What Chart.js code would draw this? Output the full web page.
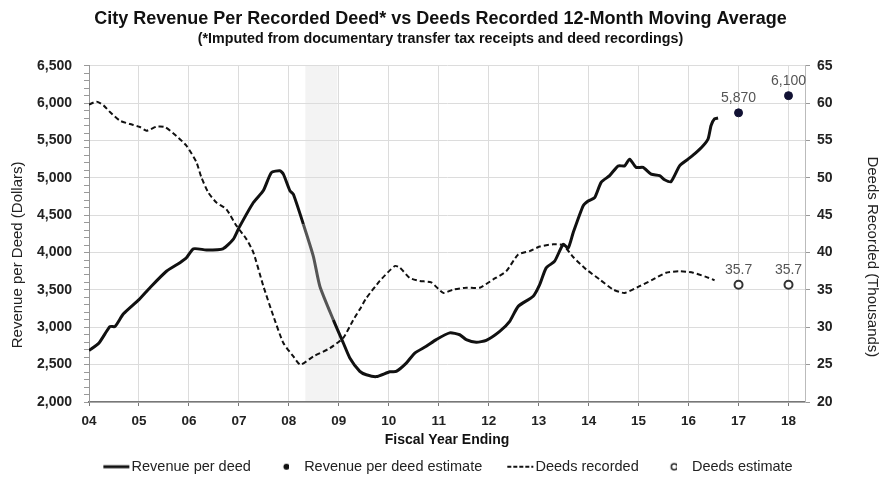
<!DOCTYPE html>
<html lang="en">
<head>
    <meta charset="UTF-8">
    <title>City Revenue Per Recorded Deed</title>
    <script src="https://cdn.jsdelivr.net/npm/chart.js"></script>
    <style>
        body { margin: 0; background: #fff; }
        #wrap { width: 881px; height: 477px; }
    </style>
</head>
<body>
<div id="wrap"><canvas id="deedChart" width="881" height="477"></canvas></div>

<script>
    // fiscal year (4 = FY04) and revenue per deed
    const revenueYears = [4.0, 4.2, 4.42, 4.52, 4.69, 5.0, 5.22, 5.55, 5.82, 5.95, 6.09, 6.35, 6.68, 6.89, 7.0,
        7.29, 7.49, 7.65, 7.82, 7.89, 8.02, 8.09, 8.29, 8.49, 8.62, 8.89, 9.09, 9.22, 9.42, 9.55, 9.75,
        10.02, 10.15, 10.35, 10.52, 10.75, 10.95, 11.22, 11.42, 11.55, 11.75, 11.95, 12.22, 12.42, 12.59,
        12.89, 13.02, 13.15, 13.32, 13.49, 13.59, 13.69, 13.89, 13.99, 14.12, 14.25, 14.42, 14.59, 14.72,
        14.82, 14.95, 15.09, 15.25, 15.42, 15.52, 15.65, 15.82, 15.99, 16.12, 16.29, 16.39, 16.45, 16.52, 16.59];
    const revenueValues = [2690, 2790, 3010, 3010, 3180, 3370, 3530, 3750, 3865, 3930, 4050, 4035, 4050, 4180, 4330,
        4670, 4830, 5070, 5095, 5050, 4830, 4780, 4380, 3950, 3550, 3100, 2790, 2590, 2410, 2365, 2340,
        2405, 2410, 2520, 2655, 2745, 2835, 2925, 2900, 2835, 2800, 2825, 2945, 3080, 3280,
        3415, 3570, 3795, 3885, 4110, 4060, 4265, 4625, 4690, 4735, 4940, 5030, 5160, 5160,
        5250, 5140, 5140, 5050, 5030, 4975, 4950, 5160, 5250, 5320, 5430, 5520, 5700, 5790, 5800];

    // deeds recorded, thousands
    const deedYears = [4.0, 4.15, 4.29, 4.42, 4.62, 4.82, 5.02, 5.15, 5.35, 5.52, 5.75, 5.95, 6.15, 6.25, 6.39,
        6.55, 6.75, 6.95, 7.15, 7.29, 7.49, 7.69, 7.89, 8.09, 8.23, 8.49, 8.82, 9.09, 9.29, 9.42, 9.55,
        9.82, 10.12, 10.22, 10.42, 10.62, 10.85, 11.09, 11.29, 11.55, 11.82, 12.09, 12.35, 12.59, 12.82,
        13.02, 13.29, 13.49, 13.69, 13.95, 14.22, 14.49, 14.72, 15.02, 15.29, 15.55, 15.82, 16.09, 16.35, 16.52];
    const deedValues = [59.8, 60.2, 59.7, 58.8, 57.65, 57.2, 56.8, 56.3, 56.85, 56.8, 55.6, 54.3, 52.1, 50.05, 48.0,
        46.7, 45.8, 43.6, 41.8, 40.0, 35.5, 31.5, 27.9, 26.1, 25.0, 26.1, 27.2, 28.6, 31.0, 32.4, 33.9,
        36.2, 38.2, 38.0, 36.6, 36.2, 36.0, 34.6, 35.05, 35.3, 35.3, 36.4, 37.5, 39.75, 40.2,
        40.8, 41.1, 41.0, 39.4, 37.75, 36.4, 35.05, 34.6, 35.5, 36.4, 37.3, 37.5, 37.3, 36.75, 36.3];

    const estimateYears = [17, 18];
    const revenueEstimates = [5870, 6100];
    const deedEstimates = [35.7, 35.7];
    const shadedYears = [8.33, 8.97];

    const leftTitle = 'Revenue per Deed (Dollars)';
    const rightTitle = 'Deeds Recorded (Thousands)';

    const toPoints = (xs, ys) => xs.map((x, i) => ({ x, y: ys[i] }));
    const inShade = x => x >= shadedYears[0] && x <= shadedYears[1];
    const font = '"Liberation Sans", Arial, sans-serif';

    // legend symbols drawn on small canvases (line ones sit right of centre, next to the text)
    function legendIcon(kind) {
        const c = document.createElement('canvas');
        const g = c.getContext('2d');
        if (kind === 'solid' || kind === 'dashed') {
            c.width = 52; c.height = 6;
            g.strokeStyle = '#111';
            g.lineWidth = kind === 'solid' ? 3 : 2;
            if (kind === 'dashed') g.setLineDash([4, 2]);
            g.beginPath(); g.moveTo(23, 3); g.lineTo(49, 3); g.stroke();
        } else {
            c.width = 20; c.height = 10;
            g.beginPath(); g.arc(17.5, 5, 3, 0, Math.PI * 2);
            if (kind === 'dot') { g.fillStyle = '#111'; g.fill(); }
            else { g.strokeStyle = '#222'; g.lineWidth = 1.5; g.stroke(); }
        }
        return c;
    }
    const icons = [legendIcon('solid'), legendIcon('dot'), legendIcon('dashed'), legendIcon('open')];

    const shadePlugin = {
        id: 'shade',
        beforeDraw(chart) {
            const { ctx, chartArea, scales } = chart;
            const x0 = scales.x.getPixelForValue(shadedYears[0]);
            const x1 = scales.x.getPixelForValue(shadedYears[1]);
            ctx.save();
            ctx.fillStyle = '#f3f3f3';
            ctx.fillRect(x0, chartArea.top, x1 - x0, chartArea.bottom - chartArea.top);
            ctx.restore();
        }
    };

    // the side titles sit a little below the middle of the axes
    const sideTitles = {
        id: 'sideTitles',
        afterDraw(chart) {
            const { ctx, chartArea } = chart;
            const midY = (chartArea.top + chartArea.bottom) / 2 + 21;
            ctx.save();
            ctx.font = '15px ' + font;
            ctx.fillStyle = '#222';
            ctx.textAlign = 'center';
            ctx.textBaseline = 'middle';
            ctx.translate(chart.scales.y.left + 18, midY);
            ctx.rotate(-Math.PI / 2);
            ctx.fillText(leftTitle, 0, 0);
            ctx.restore();
            ctx.save();
            ctx.font = '15px ' + font;
            ctx.fillStyle = '#222';
            ctx.textAlign = 'center';
            ctx.textBaseline = 'middle';
            ctx.translate(chart.scales.y2.right - 9, midY + 2);
            ctx.rotate(Math.PI / 2);
            ctx.fillText(rightTitle, 0, 0);
            ctx.restore();
        }
    };

    const estimateLabels = {
        id: 'estimateLabels',
        afterDatasetsDraw(chart) {
            const { ctx } = chart;
            ctx.save();
            ctx.font = '14px ' + font;
            ctx.fillStyle = '#555';
            ctx.textAlign = 'center';
            ctx.textBaseline = 'bottom';
            [1, 3].forEach(di => {
                const ds = chart.data.datasets[di];
                chart.getDatasetMeta(di).data.forEach((pt, i) => {
                    const v = ds.data[i].y;
                    const txt = di === 1 ? v.toLocaleString('en-US') : v.toFixed(1);
                    ctx.fillText(txt, pt.x, pt.y - 8);
                });
            });
            ctx.restore();
        }
    };

    new Chart(document.getElementById('deedChart'), {
        type: 'line',
        data: {
            datasets: [{
                label: 'Revenue per deed',
                data: toPoints(revenueYears, revenueValues),
                yAxisID: 'y',
                borderColor: '#111',
                borderWidth: 3,
                pointRadius: 0,
                tension: 0.2,
                segment: {
                    borderColor: c => inShade((c.p0.parsed.x + c.p1.parsed.x) / 2) ? '#555' : '#111'
                }
            }, {
                label: 'Revenue per deed estimate',
                data: toPoints(estimateYears, revenueEstimates),
                yAxisID: 'y',
                showLine: false,
                pointRadius: 4,
                pointBackgroundColor: '#111133',
                pointBorderColor: '#111133'
            }, {
                label: 'Deeds recorded',
                data: toPoints(deedYears, deedValues),
                yAxisID: 'y2',
                borderColor: '#111',
                borderWidth: 2,
                borderDash: [5, 3],
                pointRadius: 0,
                tension: 0.2
            }, {
                label: 'Deeds estimate',
                data: toPoints(estimateYears, deedEstimates),
                yAxisID: 'y2',
                showLine: false,
                pointRadius: 4,
                pointBorderWidth: 2,
                pointBackgroundColor: '#fff',
                pointBorderColor: '#333'
            }]
        },
        options: {
            responsive: false,
            animation: false,
            devicePixelRatio: 1,
            layout: { padding: { left: 0, right: 0, top: 0, bottom: -7 } },
            plugins: {
                title: {
                    display: true,
                    text: 'City Revenue Per Recorded Deed* vs Deeds Recorded 12-Month Moving Average',
                    color: '#111',
                    font: { family: font, size: 18, weight: 'bold' },
                    padding: { top: 8, bottom: 1 }
                },
                subtitle: {
                    display: true,
                    text: '(*Imputed from documentary transfer tax receipts and deed recordings)',
                    color: '#111',
                    font: { family: font, size: 14.3, weight: 'bold' },
                    padding: { top: 0, bottom: 18 }
                },
                legend: {
                    position: 'bottom',
                    labels: {
                        usePointStyle: true,
                        pointStyleWidth: 36,
                        boxHeight: 8,
                        padding: 10,
                        color: '#222',
                        font: { family: font, size: 14.5 },
                        generateLabels: chart => chart.data.datasets.map((ds, i) => ({
                            text: ds.label,
                            datasetIndex: i,
                            pointStyle: icons[i],
                            fillStyle: 'transparent',
                            strokeStyle: 'transparent',
                            lineWidth: 0,
                            fontColor: '#222'
                        }))
                    }
                },
                tooltip: { enabled: false }
            },
            scales: {
                x: {
                    type: 'linear',
                    min: 4,
                    max: 18.33,
                    afterFit: s => { s.height = 47.5; },
                    ticks: {
                        stepSize: 1,
                        includeBounds: false,
                        color: '#222',
                        padding: 7,
                        font: { family: font, size: 13.5, weight: 'bold' },
                        callback: v => String(v).padStart(2, '0')
                    },
                    grid: { color: '#dcdcdc', tickColor: '#777', tickLength: 4 },
                    border: { color: '#777', width: 1.5 },
                    title: {
                        display: true,
                        text: 'Fiscal Year Ending',
                        color: '#111',
                        font: { family: font, size: 14, weight: 'bold' },
                        padding: { top: 0, bottom: 1 }
                    }
                },
                y: {
                    position: 'left',
                    min: 2000,
                    max: 6500,
                    afterFit: s => { s.width = 89; },
                    ticks: {
                        stepSize: 100,
                        autoSkip: false,
                        color: '#222',
                        padding: 12,
                        font: { family: font, size: 14, weight: 'bold' },
                        callback: v => v % 500 === 0 ? v.toLocaleString('en-US') : ''
                    },
                    grid: {
                        color: c => c.tick && c.tick.value % 500 === 0 ? '#dcdcdc' : 'transparent',
                        tickColor: '#999',
                        tickLength: 5
                    },
                    border: { color: '#999' }
                },
                y2: {
                    position: 'right',
                    min: 20,
                    max: 65,
                    afterFit: s => { s.width = 76; },
                    ticks: {
                        stepSize: 5,
                        color: '#222',
                        padding: 7,
                        font: { family: font, size: 14, weight: 'bold' }
                    },
                    grid: { drawOnChartArea: false, tickColor: '#999', tickLength: 5 },
                    border: { color: '#bbb' }
                }
            }
        },
        plugins: [shadePlugin, sideTitles, estimateLabels]
    });
</script>
</body>
</html>
